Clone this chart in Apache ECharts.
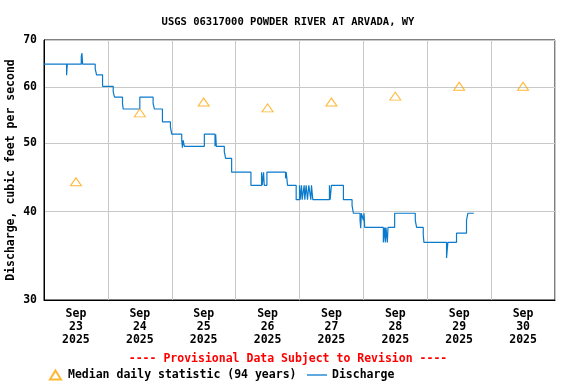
<!DOCTYPE html>
<html>
<head>
<meta charset="utf-8">
<script src="https://cdn.jsdelivr.net/npm/echarts@6/dist/echarts.min.js"></script>
<style>html,body{margin:0;padding:0;background:#fff;}#c{width:576px;height:384px;}</style>
</head>
<body>
<div id="c"></div>
<script>
// ---- Data ----
var title = 'USGS 06317000 POWDER RIVER AT ARVADA, WY';
var yTicks = [30, 40, 50, 60, 70];
var dayLabels = ['2025-09-23','2025-09-24','2025-09-25','2025-09-26','2025-09-27','2025-09-28','2025-09-29','2025-09-30'];
var medianTimes = ['2025-09-23 12:00','2025-09-24 12:00','2025-09-25 12:00','2025-09-26 12:00','2025-09-27 12:00','2025-09-28 12:00','2025-09-29 12:00','2025-09-30 12:00'];
var medianValues = [44.1, 55.2, 57.2, 56.1, 57.2, 58.3, 60.2, 60.2];
var dischargeTimes = [
 '2025-09-23 00:00','2025-09-23 08:30','2025-09-23 08:45','2025-09-23 14:00','2025-09-23 14:15','2025-09-23 14:30',
 '2025-09-23 19:15','2025-09-23 19:45','2025-09-23 22:00','2025-09-24 02:00','2025-09-24 02:30','2025-09-24 05:30',
 '2025-09-24 05:45','2025-09-24 12:00','2025-09-24 17:00','2025-09-24 17:30','2025-09-24 20:30','2025-09-24 23:30',
 '2025-09-25 00:00','2025-09-25 03:45','2025-09-25 04:00','2025-09-25 04:15','2025-09-25 04:45','2025-09-25 12:15',
 '2025-09-25 16:15','2025-09-25 16:30','2025-09-25 16:45','2025-09-25 19:45','2025-09-25 20:15','2025-09-25 22:30',
 '2025-09-26 05:45','2025-09-26 09:45','2025-09-26 10:00','2025-09-26 10:30','2025-09-26 10:45','2025-09-26 11:45',
 '2025-09-26 18:45','2025-09-26 19:00','2025-09-26 19:15','2025-09-26 19:30','2025-09-26 22:45',
 '2025-09-27 00:00','2025-09-27 00:15','2025-09-27 00:45','2025-09-27 01:00','2025-09-27 01:45','2025-09-27 02:00',
 '2025-09-27 02:30','2025-09-27 03:00','2025-09-27 03:30','2025-09-27 04:15','2025-09-27 04:30','2025-09-27 05:00',
 '2025-09-27 11:15','2025-09-27 11:30','2025-09-27 12:00','2025-09-27 16:30','2025-09-27 19:45','2025-09-27 20:15',
 '2025-09-27 22:45','2025-09-27 23:00','2025-09-27 23:15','2025-09-28 00:00','2025-09-28 00:15','2025-09-28 00:30',
 '2025-09-28 07:30','2025-09-28 08:00','2025-09-28 08:15','2025-09-28 08:30','2025-09-28 09:00','2025-09-28 09:15',
 '2025-09-28 11:45','2025-09-28 19:30','2025-09-28 20:00','2025-09-28 22:30','2025-09-28 22:45',
 '2025-09-29 07:15','2025-09-29 07:45','2025-09-29 11:00','2025-09-29 14:45','2025-09-29 15:15','2025-09-29 17:30'
];
var dischargeValues = [
 64.7, 62.4, 64.7, 66.3, 67.1, 64.7,
 63.7, 62.5, 60.2, 59.1, 58.1, 56.9,
 55.9, 58.1, 56.9, 55.9, 53.6, 52.7,
 51.5, 50.5, 49.3, 50.5, 49.5, 51.5,
 49.5, 51.5, 49.5, 48.6, 47.6, 45.5,
 43.6, 45.5, 43.6, 45.5, 43.6, 45.5,
 44.6, 45.5, 44.6, 43.6, 41.6,
 43.6, 41.6, 43.6, 41.6, 43.6, 41.6,
 43.6, 41.6, 43.6, 41.6, 43.6, 41.6,
 43.6, 41.6, 43.6, 41.6, 40.8, 39.8,
 38.9, 37.9, 39.8, 38.9, 39.8, 38.0,
 36.2, 38.0, 36.2, 38.0, 36.2, 38.0,
 39.8, 38.9, 38.0, 37.1, 36.2,
 34.4, 36.2, 37.3, 38.9, 39.8, 39.8
];

// ---- Helpers: time -> hours since first day start (x axis in hours) ----
var MONTHS = ['Jan','Feb','Mar','Apr','May','Jun','Jul','Aug','Sep','Oct','Nov','Dec'];
function parseT(s) {
  var p = s.split(/[- :]/).map(Number);
  return Date.UTC(p[0], p[1] - 1, p[2], p[3] || 0, p[4] || 0);
}
var T0 = parseT(dayLabels[0] + ' 00:00');
function hrs(s) { return (parseT(s) - T0) / 3600000; }
var dayStarts = dayLabels.map(function (d) { return hrs(d + ' 00:00'); });
dayStarts.push(dayStarts[dayStarts.length - 1] + 24);
var dayNoons = dayLabels.map(function (d) { return hrs(d + ' 12:00'); });

var FONT = '"DejaVu Sans Mono", monospace';
var chart = echarts.init(document.getElementById('c'), null, {renderer: 'canvas'});
chart.setOption({
  animation: false,
  backgroundColor: '#fff',
  title: {
    text: title, left: 'center', top: 12,
    textStyle: {fontFamily: FONT, fontWeight: 'bold', fontSize: 10.5, color: '#000'}
  },
  grid: {left: 44, right: 21, top: 40, bottom: 84, show: true, borderColor: '#000', borderWidth: 1,
         containLabel: false, outerBoundsMode: 'none'},
  xAxis: {
    type: 'value',
    min: dayStarts[0], max: dayStarts[dayStarts.length - 1], interval: 24,
    axisLine: {show: true, lineStyle: {color: '#000'}},
    axisTick: {show: false},
    splitLine: {show: true, lineStyle: {color: '#c8c8c8', width: 1}},
    axisLabel: {
      customValues: dayNoons,
      margin: 8,
      lineHeight: 13,
      fontFamily: FONT, fontWeight: 'bold', fontSize: 11.5, color: '#000',
      formatter: function (v) {
        var d = new Date(T0 + v * 3600000);
        return MONTHS[d.getUTCMonth()] + '\n' + d.getUTCDate() + '\n' + d.getUTCFullYear();
      }
    }
  },
  yAxis: {
    type: 'log', logBase: 10, min: 30, max: 70,
    name: 'Discharge, cubic feet per second',
    nameLocation: 'middle', nameGap: 27, nameMoveOverlap: false,
    nameTextStyle: {fontFamily: FONT, fontWeight: 'bold', fontSize: 11.5, color: '#000'},
    axisLine: {show: true, lineStyle: {color: '#000'}},
    axisTick: {show: false, customValues: yTicks},
    splitLine: {show: true, lineStyle: {color: '#c8c8c8', width: 1}},
    axisLabel: {
      customValues: yTicks, margin: 7,
      fontFamily: FONT, fontWeight: 'bold', fontSize: 11.5, color: '#000',
      formatter: function (v) { return String(Math.round(v)); }
    }
  },
  legend: [
    {
      data: [{name: 'Median daily statistic (94 years)', icon: 'triangle'}],
      left: 44, top: 364, itemWidth: 11, itemHeight: 9, itemGap: 5,
      textStyle: {fontFamily: FONT, fontWeight: 'bold', fontSize: 11.5, color: '#000', padding: [0, 0, 0, 2]},
      selectedMode: false
    },
    {
      data: [{name: 'Discharge', icon: 'rect'}],
      left: 302, top: 364, itemWidth: 20, itemHeight: 1.3,
      textStyle: {fontFamily: FONT, fontWeight: 'bold', fontSize: 11.5, color: '#000'},
      selectedMode: false
    }
  ],
  graphic: [{
    type: 'text', left: 'center', top: 353,
    style: {
      text: '---- Provisional Data Subject to Revision ----',
      fill: '#ff0000', font: 'bold 11.5px "DejaVu Sans Mono", monospace'
    }
  }],
  series: [
    {
      name: 'Discharge', type: 'line', step: 'end',
      symbol: 'none', showSymbol: false,
      lineStyle: {color: '#0a7acc', width: 1.2},
      itemStyle: {color: '#0a7acc'},
      data: dischargeTimes.map(function (t, i) { return [hrs(t), dischargeValues[i]]; }),
      z: 3
    },
    {
      name: 'Median daily statistic (94 years)', type: 'scatter',
      symbol: 'triangle', symbolSize: [11, 8],
      itemStyle: {color: 'rgba(0,0,0,0)', borderColor: '#ffa500', borderWidth: 1},
      data: medianTimes.map(function (t, i) { return [hrs(t), medianValues[i]]; }),
      z: 4
    }
  ]
});
</script>
</body>
</html>
